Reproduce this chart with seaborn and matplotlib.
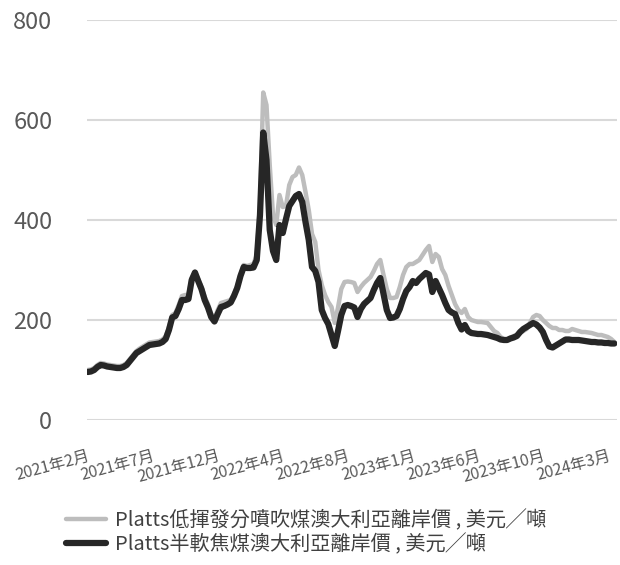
import numpy as np
import pandas as pd
import matplotlib
matplotlib.use("Agg")
import matplotlib.pyplot as plt
import seaborn as sns

# ---- data (weekly, USD/ton) ----
semi_soft = [96, 97, 100, 106, 110, 109, 107, 106, 105, 104,
             104, 106, 110, 118, 126, 134, 138, 142, 146, 150,
             151, 152, 153, 156, 162, 180, 205, 208, 222, 240,
             240, 242, 280, 295, 278, 262, 240, 225, 206, 197,
             212, 226, 228, 231, 235, 248, 264, 288, 306, 304,
             304, 305, 320, 410, 575, 520, 380, 338, 320, 390,
             374, 402, 428, 438, 448, 452, 436, 396, 360, 306,
             298, 276, 220, 204, 192, 170, 148, 178, 210, 228,
             230, 228, 225, 206, 222, 232, 238, 244, 260, 274,
             284, 252, 220, 204, 205, 208, 222, 242, 258, 266,
             278, 274, 282, 288, 294, 291, 256, 278, 264, 250,
             234, 220, 215, 212, 194, 181, 190, 178, 174, 173,
             172, 172, 171, 170, 168, 166, 164, 161, 160, 160,
             163, 165, 168, 176, 182, 186, 190, 194, 191, 185,
             176, 160, 147, 145, 149, 153, 157, 161, 161, 160,
             160, 160, 159, 158, 157, 156, 156, 155, 155, 154,
             154, 153, 153]

low_vol_pci = [100, 101, 104, 110, 114, 113, 111, 110, 109, 108,
               108, 110, 114, 122, 130, 138, 143, 147, 151, 155,
               156, 157, 158, 161, 167, 186, 210, 214, 230, 248,
               250, 250, 284, 296, 282, 266, 246, 232, 212, 202,
               220, 234, 236, 238, 240, 252, 268, 290, 310, 308,
               310, 312, 330, 430, 655, 630, 510, 410, 390, 450,
               426, 428, 470, 486, 490, 505, 490, 456, 420, 372,
               356, 300, 270, 250, 236, 226, 194, 225, 262, 276,
               277, 276, 274, 256, 266, 274, 280, 286, 298, 312,
               320, 290, 262, 244, 244, 246, 266, 290, 306, 312,
               312, 316, 320, 330, 340, 348, 316, 332, 326, 302,
               290, 268, 250, 232, 220, 214, 222, 206, 200, 198,
               196, 196, 195, 194, 186, 178, 174, 166, 162, 160,
               164, 168, 170, 174, 178, 182, 194, 206, 210, 208,
               200, 194, 188, 184, 184, 180, 180, 178, 178, 182,
               180, 178, 176, 176, 175, 174, 172, 170, 170, 168,
               166, 162, 156]

tick_labels = ["2021年2月", "2021年7月", "2021年12月", "2022年4月", "2022年8月",
               "2023年1月", "2023年6月", "2023年10月", "2024年3月"]
label_step = 20

name_pci = "Platts低揮發分噴吹煤澳大利亞離岸價 , 美元╱噸"
name_semi = "Platts半軟焦煤澳大利亞離岸價 , 美元╱噸"

df = pd.DataFrame({
    "week": np.arange(len(semi_soft)),
    name_pci: low_vol_pci,
    name_semi: semi_soft,
})

sns.set_theme(style="white")
plt.rcParams["font.family"] = ["Noto Sans CJK TC", "DejaVu Sans"]

fig = plt.figure(figsize=(6.2, 5.65), dpi=100)
ax = fig.add_axes([87 / 620, (565 - 420) / 565, (617 - 87) / 620, 400 / 565])

sns.lineplot(data=df, x="week", y=name_pci, ax=ax, color="#bdbdbd",
             linewidth=3.2, label=name_pci)
sns.lineplot(data=df, x="week", y=name_semi, ax=ax, color="#262626",
             linewidth=4.5, label=name_semi)

ax.set_ylim(0, 800)
ax.set_xlim(-0.2, len(semi_soft) - 0.2)
ax.set_yticks([0, 200, 400, 600, 800])
ax.set_xticks(np.arange(0, label_step * len(tick_labels), label_step))
ax.set_xticklabels(tick_labels, rotation=15, ha="right", rotation_mode="anchor")
ax.tick_params(axis="y", labelsize=17, colors="#595959", length=0, pad=25)
ax.tick_params(axis="x", labelsize=11.5, colors="#595959", length=0, pad=20)
ax.set_xlabel("")
ax.set_ylabel("")
ax.grid(axis="y", color="#d9d9d9", linewidth=1.5)
ax.grid(axis="x", visible=False)
for s in ax.spines.values():
    s.set_visible(False)
ax.set_axisbelow(True)

ax.get_legend().remove()
handles, labels = ax.get_legend_handles_labels()
fig.legend(handles, labels, loc="lower left", bbox_to_anchor=(56 / 620, 0.0),
           frameon=False, fontsize=14.5, handlelength=2.0, labelspacing=0.12,
           handletextpad=0.45, labelcolor="#404040", borderaxespad=0.1)

fig.savefig("out.png", dpi=100)
